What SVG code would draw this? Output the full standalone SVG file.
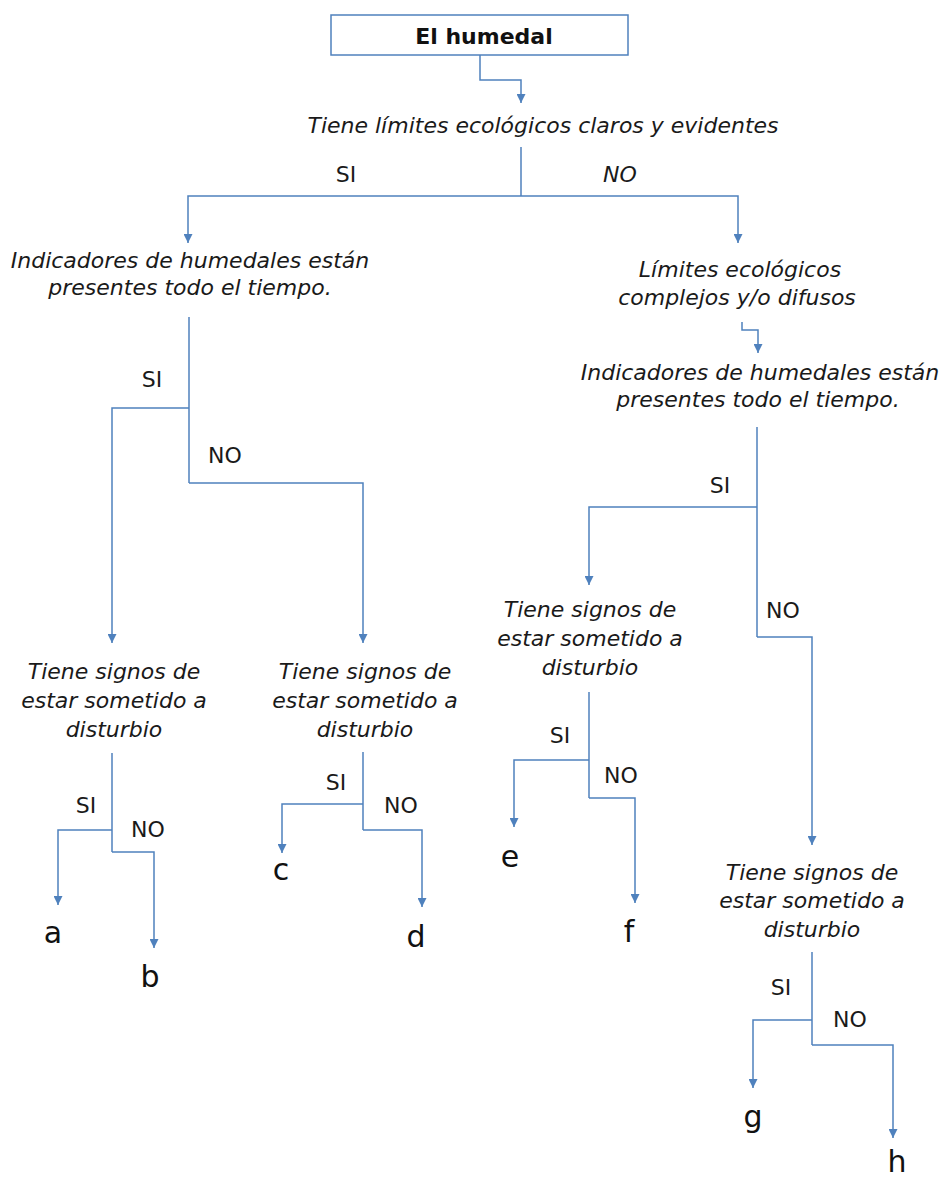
<svg xmlns="http://www.w3.org/2000/svg" width="941" height="1178" viewBox="0 0 941 1178">
  <style>
    .q { font-family: "DejaVu Sans", Verdana, sans-serif; font-size: 22px; font-style: italic; fill: #1a1a1a; text-anchor: middle; }
    .lbl { font-family: "DejaVu Sans", Verdana, sans-serif; font-size: 22px; fill: #1a1a1a; text-anchor: middle; }
    .leaf { font-family: "DejaVu Sans", Verdana, sans-serif; font-size: 30px; fill: #111; text-anchor: middle; }
    .title { font-family: "DejaVu Sans", Verdana, sans-serif; font-size: 22px; font-weight: bold; fill: #111; text-anchor: middle; }
    .box { fill: #fff; stroke: #4f81bd; stroke-width: 1.5; }
    .wire { fill: none; stroke: #4f81bd; stroke-width: 1.5; marker-end: url(#tip); }
    .wire-plain { fill: none; stroke: #4f81bd; stroke-width: 1.5; }
  </style>
  <defs>
    <marker id="tip" viewBox="0 0 10 10" refX="10" refY="5" markerWidth="9" markerHeight="9" markerUnits="userSpaceOnUse" orient="auto">
      <path d="M0,0 L10,5 L0,10 z" fill="#4f81bd"/>
    </marker>
  </defs>
  <rect width="941" height="1178" fill="#fff"/>

  <!-- connectors -->
  <g id="connectors">
    <path class="wire" d="M480,55 V80 H521 V103"/>
    <path class="wire-plain" d="M521,147 V196"/>
    <path class="wire" d="M521,196 H188 V243"/>
    <path class="wire" d="M521,196 H738 V243"/>

    <!-- left: indicators -->
    <path class="wire-plain" d="M189,317 V483"/>
    <path class="wire" d="M189,408 H112 V643"/>
    <path class="wire" d="M189,483 H363 V643"/>

    <!-- a / b -->
    <path class="wire-plain" d="M112,753 V852"/>
    <path class="wire" d="M112,830 H58 V905"/>
    <path class="wire" d="M112,852 H154 V948"/>

    <!-- c / d -->
    <path class="wire-plain" d="M363,752 V830"/>
    <path class="wire" d="M363,804 H282 V853"/>
    <path class="wire" d="M363,830 H422 V907"/>

    <!-- right: diffuse limits to indicators -->
    <path class="wire" d="M742,322 V330 H758 V353"/>
    <path class="wire-plain" d="M757,427 V637"/>
    <path class="wire" d="M757,507 H589 V585"/>
    <path class="wire" d="M757,637 H812 V845"/>

    <!-- e / f -->
    <path class="wire-plain" d="M589,692 V798"/>
    <path class="wire" d="M589,760 H514 V827"/>
    <path class="wire" d="M589,798 H635 V903"/>

    <!-- g / h -->
    <path class="wire-plain" d="M812,952 V1045"/>
    <path class="wire" d="M812,1020 H753 V1088"/>
    <path class="wire" d="M812,1045 H893 V1138"/>
  </g>

  <!-- branch labels -->
  <g id="branch-labels">
    <text class="lbl" x="346" y="182">SI</text>
    <text class="lbl" x="620" y="182" font-style="italic">NO</text>
    <text class="lbl" x="152" y="387">SI</text>
    <text class="lbl" x="225" y="463">NO</text>
    <text class="lbl" x="86" y="813">SI</text>
    <text class="lbl" x="148" y="837">NO</text>
    <text class="lbl" x="336" y="790">SI</text>
    <text class="lbl" x="401" y="813">NO</text>
    <text class="lbl" x="720" y="493">SI</text>
    <text class="lbl" x="783" y="618">NO</text>
    <text class="lbl" x="560" y="743">SI</text>
    <text class="lbl" x="621" y="783">NO</text>
    <text class="lbl" x="781" y="995">SI</text>
    <text class="lbl" x="850" y="1027">NO</text>
  </g>

  <g id="root">
    <rect class="box" x="331" y="15" width="297" height="40"/>
    <text class="title" x="484" y="44">El humedal</text>
  </g>

  <g id="q-limits">
    <text class="q" x="543" y="133">Tiene límites ecológicos claros y evidentes</text>
  </g>

  <g id="q-indicators-left">
    <text class="q" x="190" y="268">Indicadores de humedales están</text>
    <text class="q" x="190" y="295">presentes todo el tiempo.</text>
  </g>

  <g id="q-diffuse">
    <text class="q" x="740" y="277">Límites ecológicos</text>
    <text class="q" x="737" y="305">complejos y/o difusos</text>
  </g>

  <g id="q-indicators-right">
    <text class="q" x="760" y="380">Indicadores de humedales están</text>
    <text class="q" x="758" y="407">presentes todo el tiempo.</text>
  </g>

  <g id="q-disturb-ab">
    <text class="q" x="114" y="679">Tiene signos de</text>
    <text class="q" x="114" y="708">estar sometido a</text>
    <text class="q" x="114" y="737">disturbio</text>
  </g>

  <g id="q-disturb-cd">
    <text class="q" x="365" y="679">Tiene signos de</text>
    <text class="q" x="365" y="708">estar sometido a</text>
    <text class="q" x="365" y="737">disturbio</text>
  </g>

  <g id="q-disturb-ef">
    <text class="q" x="590" y="617">Tiene signos de</text>
    <text class="q" x="590" y="646">estar sometido a</text>
    <text class="q" x="590" y="675">disturbio</text>
  </g>

  <g id="q-disturb-gh">
    <text class="q" x="812" y="880">Tiene signos de</text>
    <text class="q" x="812" y="908">estar sometido a</text>
    <text class="q" x="812" y="937">disturbio</text>
  </g>

  <g id="leaf-a"><text class="leaf" x="53" y="943">a</text></g>
  <g id="leaf-b"><text class="leaf" x="150" y="987">b</text></g>
  <g id="leaf-c"><text class="leaf" x="281" y="880">c</text></g>
  <g id="leaf-d"><text class="leaf" x="416" y="947">d</text></g>
  <g id="leaf-e"><text class="leaf" x="510" y="867">e</text></g>
  <g id="leaf-f"><text class="leaf" x="629" y="942">f</text></g>
  <g id="leaf-g"><text class="leaf" x="753" y="1127">g</text></g>
  <g id="leaf-h"><text class="leaf" x="897" y="1172">h</text></g>
</svg>
